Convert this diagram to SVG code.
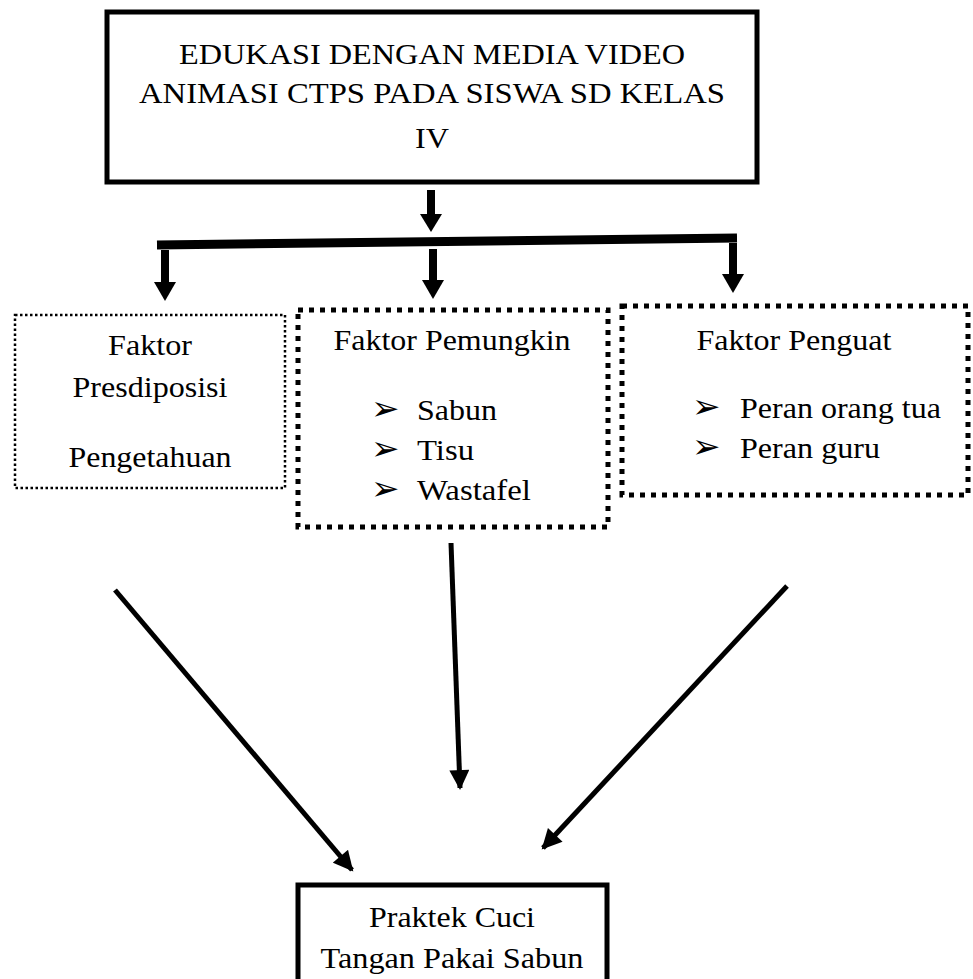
<svg xmlns="http://www.w3.org/2000/svg" width="973" height="979" viewBox="0 0 973 979">
<style>
text{font-family:"Liberation Serif","Times New Roman",serif;font-size:29px;fill:#000}
.c{text-anchor:middle}
.b{font-family:"DejaVu Sans",sans-serif;font-size:34px}
.solid{fill:#fff;stroke:#000;stroke-width:5}
.thin{fill:#fff;stroke:#000;stroke-width:2.5;stroke-dasharray:2.5 2.5}
.heavy{fill:#fff;stroke:#000;stroke-width:5;stroke-dasharray:5 6}
.ln{stroke:#000;stroke-width:5;fill:none}
.stem{stroke:#000;stroke-width:8;fill:none}
</style>
<defs>
<marker id="ah" viewBox="0 0 10 10" refX="9" refY="5" markerWidth="4.2" markerHeight="4" markerUnits="strokeWidth" orient="auto">
<path d="M0,0 L10,5 L0,10 z" fill="#000"/>
</marker>
</defs>
<rect width="973" height="979" fill="#fff"/>
<g id="top">
<rect class="solid" x="107" y="12" width="650" height="170"/>
<text class="c" x="432" y="64" textLength="506" lengthAdjust="spacingAndGlyphs">EDUKASI DENGAN MEDIA VIDEO</text>
<text class="c" x="432" y="103" textLength="586" lengthAdjust="spacingAndGlyphs">ANIMASI CTPS PADA SISWA SD KELAS</text>
<text class="c" x="432" y="148" textLength="34" lengthAdjust="spacingAndGlyphs">IV</text>
</g>
<g id="connectors">
<line class="stem" x1="431" y1="190" x2="431" y2="216"/>
<path d="M420,214 L442,214 L431,232 z" fill="#000"/>
<line x1="157" y1="245" x2="737" y2="238" stroke="#000" stroke-width="9"/>
<line class="stem" x1="165" y1="250" x2="165" y2="284"/>
<path d="M154,282 L176,282 L165,301 z" fill="#000"/>
<line class="stem" x1="433" y1="249" x2="433" y2="282"/>
<path d="M422,280 L444,280 L433,299 z" fill="#000"/>
<line class="stem" x1="733" y1="243" x2="733" y2="276"/>
<path d="M722,274 L744,274 L733,293 z" fill="#000"/>
<line class="ln" x1="451" y1="543" x2="460" y2="788" marker-end="url(#ah)"/>
<line class="ln" x1="115" y1="590" x2="352" y2="870" marker-end="url(#ah)"/>
<line class="ln" x1="787" y1="586" x2="543" y2="848" marker-end="url(#ah)"/>
</g>
<g id="presdiposisi">
<rect class="thin" x="15" y="315" width="270" height="173"/>
<text class="c" x="150" y="355" textLength="84" lengthAdjust="spacingAndGlyphs">Faktor</text>
<text class="c" x="150" y="397" textLength="155" lengthAdjust="spacingAndGlyphs">Presdiposisi</text>
<text class="c" x="150" y="467" textLength="163" lengthAdjust="spacingAndGlyphs">Pengetahuan</text>
</g>
<g id="pemungkin">
<rect class="heavy" x="298" y="310" width="310" height="217"/>
<text class="c" x="452" y="350" textLength="237" lengthAdjust="spacingAndGlyphs">Faktor Pemungkin</text>
<text class="b" x="371" y="420">➢</text><text x="417" y="420" textLength="80" lengthAdjust="spacingAndGlyphs">Sabun</text>
<text class="b" x="371" y="460">➢</text><text x="417" y="460" textLength="57" lengthAdjust="spacingAndGlyphs">Tisu</text>
<text class="b" x="371" y="500">➢</text><text x="417" y="500" textLength="114" lengthAdjust="spacingAndGlyphs">Wastafel</text>
</g>
<g id="penguat">
<rect class="heavy" x="622" y="306" width="346" height="189"/>
<text class="c" x="794" y="350" textLength="195" lengthAdjust="spacingAndGlyphs">Faktor Penguat</text>
<text class="b" x="692" y="418">➢</text><text x="740" y="418" textLength="201" lengthAdjust="spacingAndGlyphs">Peran orang tua</text>
<text class="b" x="692" y="458">➢</text><text x="740" y="458" textLength="140" lengthAdjust="spacingAndGlyphs">Peran guru</text>
</g>
<g id="praktek">
<rect class="solid" x="298" y="885" width="309" height="120"/>
<text class="c" x="452" y="927" textLength="166" lengthAdjust="spacingAndGlyphs">Praktek Cuci</text>
<text class="c" x="452" y="968" textLength="263" lengthAdjust="spacingAndGlyphs">Tangan Pakai Sabun</text>
</g>
</svg>
